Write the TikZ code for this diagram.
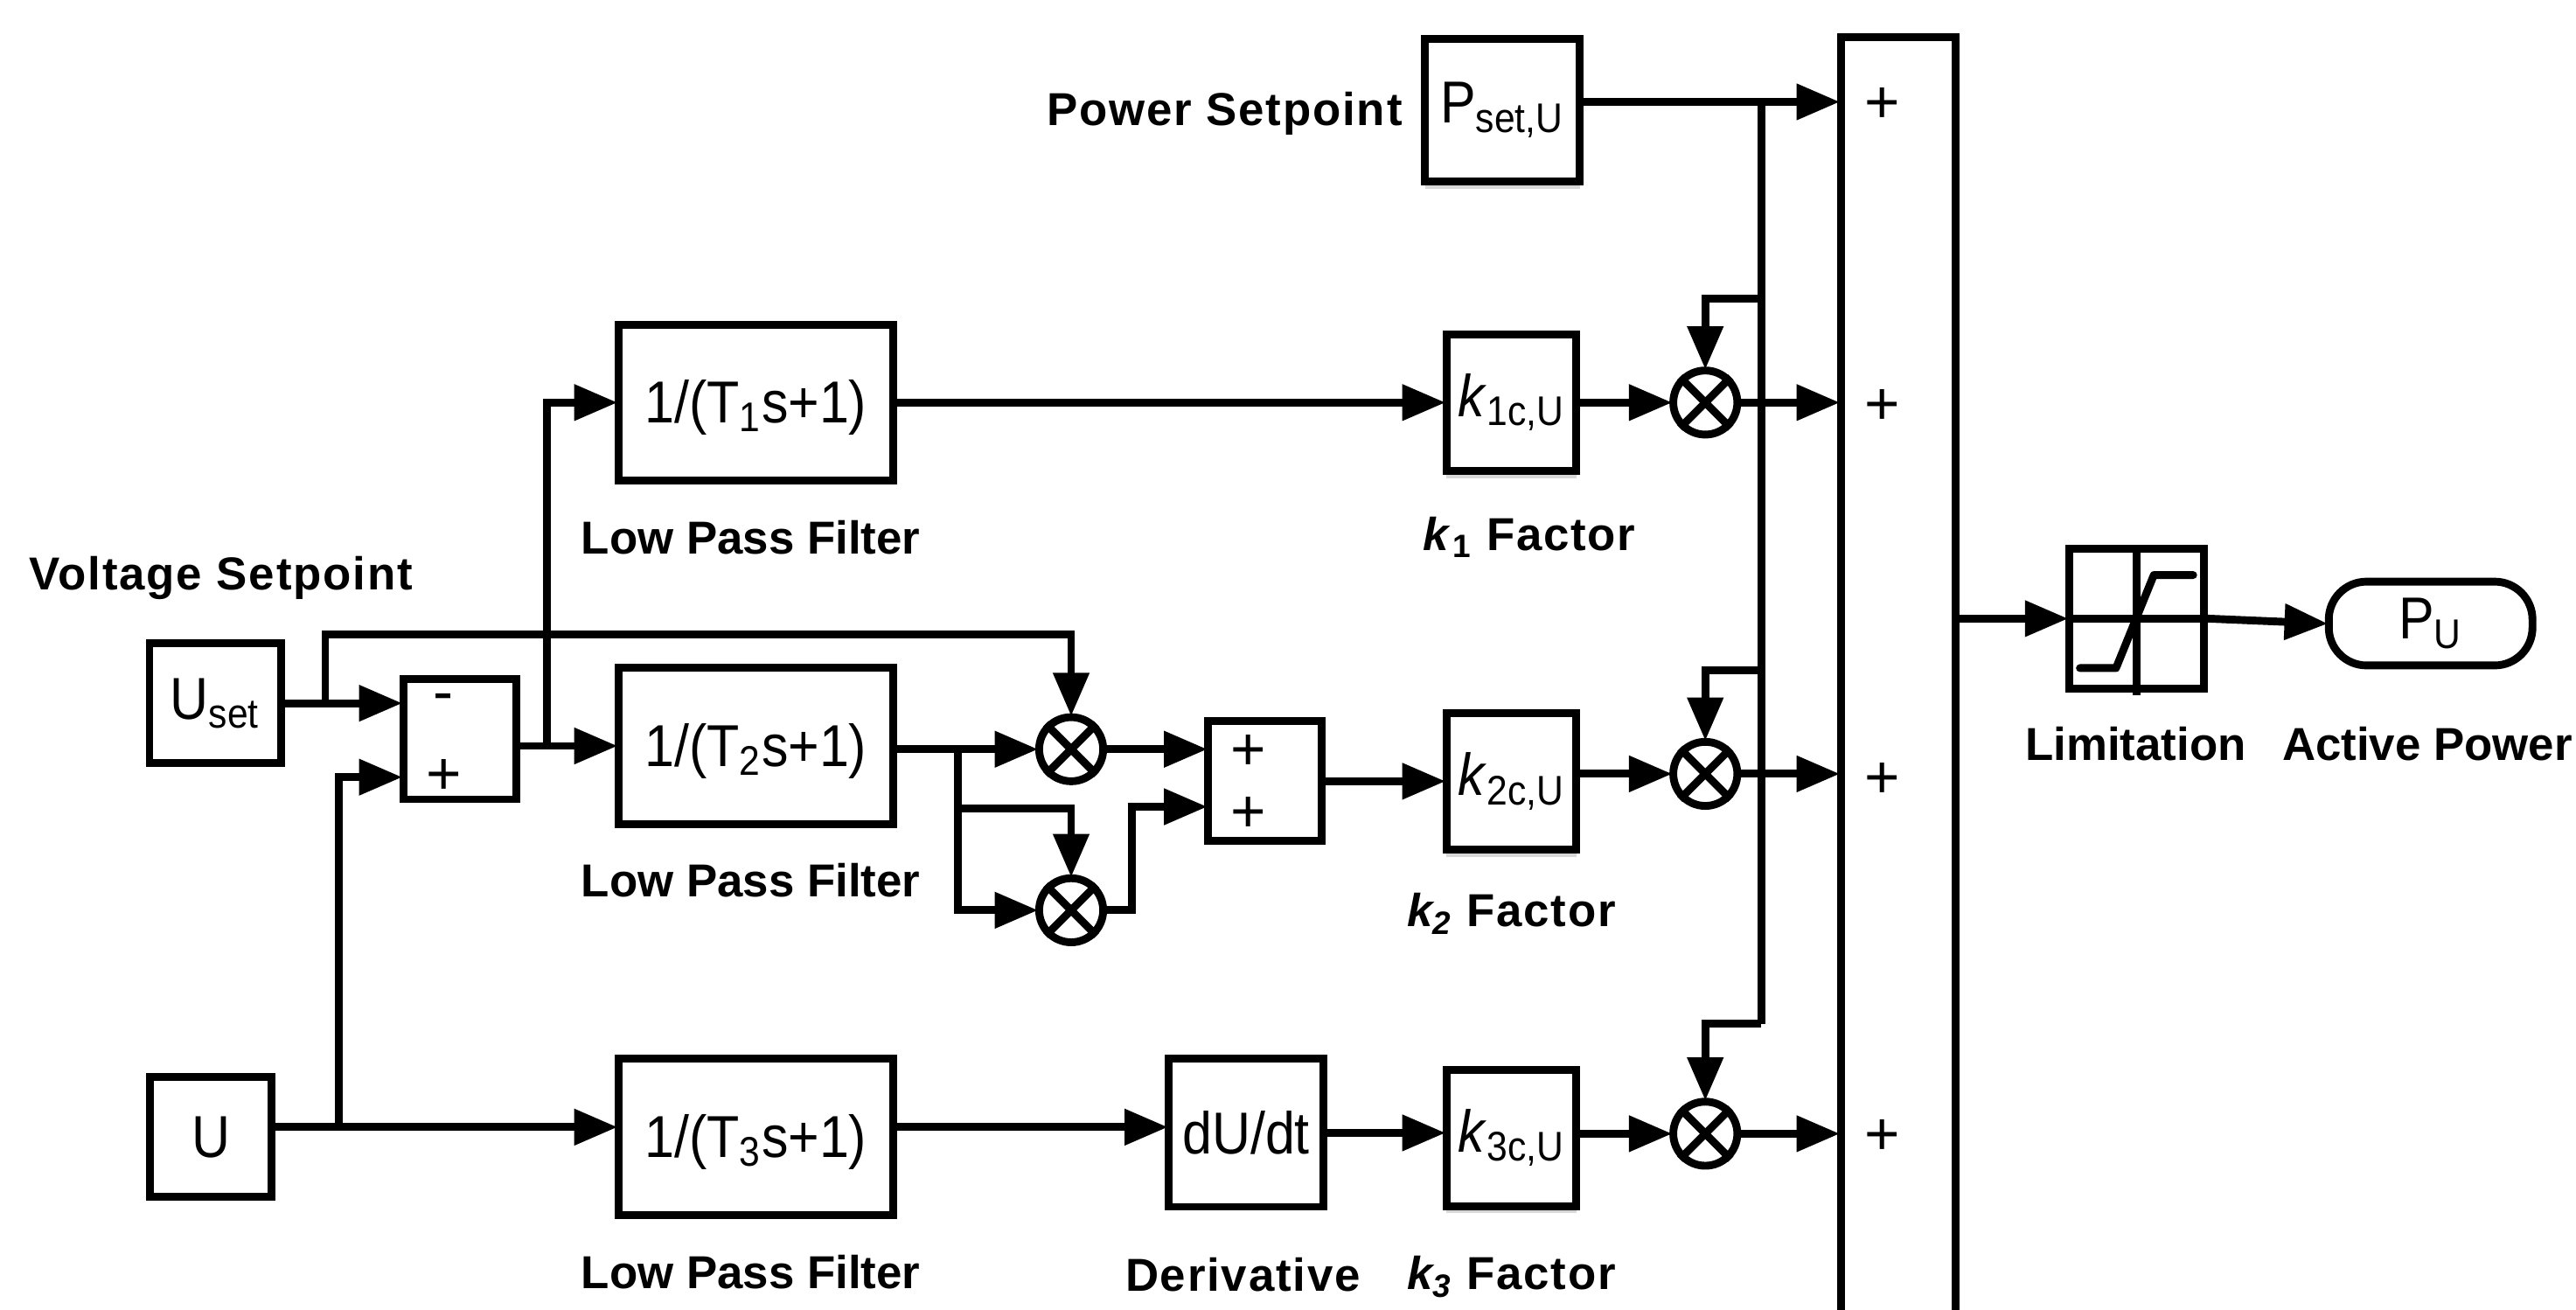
\documentclass[tikz,border=0pt]{standalone}
\usepackage{fontspec}
\usepackage{tikz}
\usetikzlibrary{arrows.meta}
\usetikzlibrary{shadows}
\setmainfont{Liberation Sans}

\tikzset{
    wire/.style = {line width = 2.7pt},
    flow/.style = {wire, ->, shorten > = -1pt},
    block/.style = {draw, line width = 2.7pt, inner sep = 0, fill = white,
        font = \fontsize{20.5}{22}\selectfont\addfontfeature{FakeStretch = 0.9}},
    softshadow/.style = {drop shadow = {shadow xshift = 0pt, shadow yshift = -2.5pt,
        fill = black!30}},
    filter/.style = {block, text height = 15pt, text depth = 1pt,
        minimum width = 3.34cm, minimum height = 1.90cm},
    factor/.style = {block, softshadow, minimum width = 1.58cm, minimum height = 1.66cm},
    adder/.style = {block, minimum width = 1.38cm, minimum height = 1.46cm},
    mult/.style = {draw, circle, line width = 2.7pt, inner sep = 0, minimum size = 0.78cm},
    sign/.style = {inner sep = 0, font = \fontsize{21}{22}\selectfont},
    tag/.style = {inner sep = 0, font = \fontsize{16}{18}\selectfont\bfseries},
    widetag/.style = {tag, font = \fontsize{16}{18}\selectfont\bfseries\addfontfeature{LetterSpace = 3.4}}
}

\begin{document}
\begin{tikzpicture}[x = 0.02cm, y = -0.02cm, >={Triangle[length = 15pt, width = 12pt]}]
    \useasboundingbox (0, 0) rectangle (1568, 797.3);
    \clip (0, 0) rectangle (1568, 797.3);

    %% inputs
    \path (131, 428) node[block, minimum width = 1.60cm, minimum height = 1.46cm] (uset) {U\textsubscript{set}};
    \path (128.5, 692) node[block, minimum width = 1.48cm, minimum height = 1.46cm] (u) {U};
    \path (914.5, 67) node[block, softshadow, minimum width = 1.88cm, minimum height = 1.74cm] (pset) {P\textsubscript{set,U}};

    %% filters and factors
    \path (460, 245) node[filter] (t1) {1/(T\textsubscript{1}s+1)};
    \path (460, 454) node[filter] (t2) {1/(T\textsubscript{2}s+1)};
    \path (460, 692) node[filter] (t3) {1/(T\textsubscript{3}s+1)};
    \path (920, 245) node[factor] (k1) {\textit{k}\textsubscript{1c,U}};
    \path (920, 475.5) node[factor] (k2) {\textit{k}\textsubscript{2c,U}};
    \path (920, 692.5) node[factor] (k3) {\textit{k}\textsubscript{3c,U}};
    \path (758.5, 689.5) node[block, minimum width = 1.88cm, minimum height = 1.80cm] (dudt) {dU/dt};

    %% adders
    \path (280, 450) node[adder] (diff) {};
    \path (770, 475.5) node[adder] (sum) {};
    \path (270, 428) node[sign] (diffm) {-};
    \path (270, 473) node[sign] (diffp) {+};
    \path (760, 458) node[sign] (suma) {+};
    \path (760, 496) node[sign] (sumb) {+};
    \path (1155.5, 427.5) node[draw, line width = 2.7pt, minimum width = 1.40cm, minimum height = 16.2cm] (summer) {};
    \path (1146, 64) node[sign] (plusa) {+};
    \path (1146, 248) node[sign] (plusb) {+};
    \path (1146, 475) node[sign] (plusc) {+};
    \path (1146, 692) node[sign] (plusd) {+};

    %% multipliers
    \path (652, 456) node[mult] (ma) {};
    \path (652, 554) node[mult] (mb) {};
    \path (1038, 245) node[mult] (m1) {};
    \path (1038, 471) node[mult] (m2) {};
    \path (1038, 690) node[mult] (m3) {};
    \foreach \m in {ma, mb, m1, m2, m3} {
        \draw[wire] (\m.north west) -- (\m.south east);
        \draw[wire] (\m.north east) -- (\m.south west);
    }

    %% limitation and output
    \path (1300.5, 376.5) node[block, minimum width = 1.64cm, minimum height = 1.70cm] (limit) {};
    \path (1479.5, 379.5) node[block, rounded corners = 0.46cm, minimum width = 2.48cm, minimum height = 1.02cm] (pu) {P\textsubscript{U}};
    \coordinate (limitfoot) at (1300.5, 423);
    \draw[wire] (limit.north) -- (limitfoot);
    \draw[wire, line cap = round, line join = round]
        (1266, 406.6) -- (1288, 406.6) -- (1311, 350) -- (1335, 350);

    %% joints
    \coordinate (setjoint) at (1072, 62);
    \coordinate (jointa) at (1072, 182);
    \coordinate (jointb) at (1072, 408);
    \coordinate (busend) at (1072, 623);
    \coordinate (usetjoint) at (198, 428);
    \coordinate (usetturn) at (198, 386);
    \coordinate (ujoint) at (206, 686);
    \coordinate (diffjoint) at (333, 454);
    \coordinate (tjoint) at (583, 456);
    \coordinate (tbranch) at (583, 492);
    \coordinate (sumturn) at (689, 491);

    %% connectors
    \draw[flow] (setjoint -| pset.east) -- (setjoint -| summer.west);
    \draw[wire] (setjoint) -- (busend);
    \draw[flow] (busend) -| (m3.north);
    \draw[flow] (jointa) -| (m1.north);
    \draw[flow] (jointb) -| (m2.north);

    \draw[flow] (uset.east) -- (uset -| diff.west);
    \draw[flow] (usetjoint) -- (usetturn) -| (ma.north);
    \draw[flow] (ujoint -| u.east) -- (ujoint -| t3.west);
    \draw[flow] (ujoint) |- (diffp -| diff.west);
    \draw[flow] (diff.east |- t2) -- (t2.west);
    \draw[flow] (diffjoint) |- (t1.west);

    \draw[flow] (t1.east) -- (k1.west);
    \draw[flow] (k1.east) -- (m1.west);
    \draw[flow] (m1.east) -- (m1 -| summer.west);

    \draw[flow] (ma -| t2.east) -- (ma.west);
    \draw[flow] (tjoint) |- (mb.west);
    \draw[flow] (tbranch) -| (mb.north);
    \draw[flow] (ma.east) -- (ma -| sum.west);
    \draw[flow] (mb.east) -| (sumturn) -- (sumturn -| sum.west);
    \draw[flow] (sum.east) -- (k2.west);
    \draw[flow] (k2.east |- m2) -- (m2.west);
    \draw[flow] (m2.east) -- (m2 -| summer.west);

    \draw[flow] (ujoint -| t3.east) -- (ujoint -| dudt.west);
    \draw[flow] (dudt.east) -- (dudt -| k3.west);
    \draw[flow] (k3.east |- m3) -- (m3.west);
    \draw[flow] (m3.east) -- (m3 -| summer.west);

    \draw[flow] (limit -| summer.east) -- (limit.west);
    \draw[wire] (limit.west) -- (limit.east);
    \draw[flow] (limit.east) -- (pu.west);

    %% labels
    \path (745.5, 69) node[widetag] (powertag) {Power Setpoint};
    \path (134.5, 352) node[widetag] (voltagetag) {Voltage Setpoint};
    \path (457, 327) node[tag] (lpfa) {Low Pass Filter};
    \path (457, 536) node[tag] (lpfb) {Low Pass Filter};
    \path (457, 774) node[tag] (lpfc) {Low Pass Filter};
    \path (931, 327) node[widetag] (kfa) {\textit{k}\textsubscript{1} Factor};
    \path (920, 556) node[widetag] (kfb) {\textit{k\textsubscript{2}} Factor};
    \path (920, 777) node[widetag] (kfc) {\textit{k\textsubscript{3}} Factor};
    \path (756.5, 776) node[widetag] (dertag) {Derivative};
    \path (1300, 453) node[tag] (limtag) {Limitation};
    \path (1477.5, 453) node[tag] (acttag) {Active Power};
\end{tikzpicture}
\end{document}
